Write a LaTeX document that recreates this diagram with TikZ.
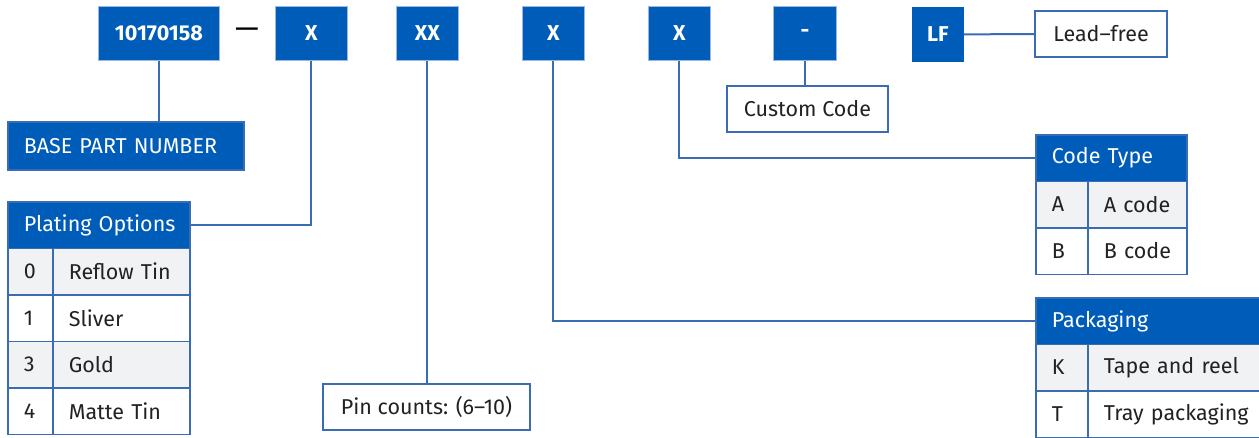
\documentclass[tikz,border=0pt]{standalone}
\usepackage{fontspec}
\setmainfont{Fira Sans}
\definecolor{fillblue}{HTML}{005CB9}
\definecolor{lineblue}{HTML}{3A6CB6}
\definecolor{edgeblue}{HTML}{9DB8E0}
\definecolor{rowgray}{HTML}{F1F2F4}
\definecolor{txt}{HTML}{222222}
\tikzset{
  tfont/.style={font=\fontsize{21.5}{24}\selectfont},
  topbox/.style={fill=fillblue, draw=edgeblue, line width=0.8pt, text=white, font=\fontsize{21.5}{24}\selectfont\bfseries, inner sep=0pt, anchor=north west, minimum height=54pt},
  bluebox/.style={fill=fillblue, draw=lineblue, line width=1.6pt, text=white, tfont, inner xsep=16pt, inner ysep=0pt, anchor=north west, minimum height=46.5pt},
  headcell/.style={fill=fillblue, draw=lineblue, line width=1.6pt, text=white, tfont, inner xsep=16pt, inner ysep=0pt, anchor=north west, minimum height=46.5pt, align=left, text width=#1},
  cellg/.style={fill=rowgray, draw=lineblue, line width=1.6pt, text=txt, tfont, inner xsep=16pt, inner ysep=0pt, anchor=north west, minimum height=46.5pt, align=left, text width=#1},
  cellw/.style={fill=white, draw=lineblue, line width=1.6pt, text=txt, tfont, inner xsep=16pt, inner ysep=0pt, anchor=north west, minimum height=46.5pt, align=left, text width=#1},
  wbox/.style={fill=white, draw=lineblue, line width=2pt, text=txt, tfont, inner sep=0pt, anchor=north west, minimum height=46pt},
  conn/.style={draw=lineblue, line width=2pt},
}
\begin{document}
\begin{tikzpicture}[x=1pt,y=-1pt]
\clip (0,0) rectangle (1259,437);
\fill[white] (0,0) rectangle (1259,437);
% top row
\node[topbox, minimum width=121pt] (pn) at (98,6) {10170158};
\node[text=black, font=\fontsize{30}{30}\selectfont, inner sep=0pt] (dash) at (247,33) {—};
\node[topbox, minimum width=72pt] (x1) at (275,6) {X};
\node[topbox, minimum width=62pt] (xx) at (396,6) {XX};
\node[topbox, minimum width=62pt] (x2) at (522,6) {X};
\node[topbox, minimum width=62pt] (x3) at (648,6) {X};
\node[topbox, minimum width=63pt] (cd) at (773,6) {-};
\node[topbox, minimum width=51pt, draw=fillblue] (lf) at (912,7) {LF};
\node[wbox, minimum width=132pt] (lead) at (1034,10) {Lead–free};
% base part number
\node[bluebox, minimum width=236pt, minimum height=48pt, text width=204pt, align=left] (bpn) at (7,121) {BASE PART NUMBER};
% plating options
\node[headcell=150pt] (poh) at (7,201) {\mbox{Plating Options}};
\node[cellg=13pt] (p0k) at (7,247.5) {0};
\node[cellg=105pt] (p0v) at (52,247.5) {\mbox{Reflow Tin}};
\node[cellw=13pt] (p1k) at (7,294) {1};
\node[cellw=105pt] (p1v) at (52,294) {\mbox{Sliver}};
\node[cellg=13pt] (p3k) at (7,340.5) {3};
\node[cellg=105pt] (p3v) at (52,340.5) {\mbox{Gold}};
\node[cellw=13pt] (p4k) at (7,387) {4};
\node[cellw=105pt] (p4v) at (52,387) {\mbox{Matte Tin}};
% pin counts
\node[wbox, minimum width=207pt] (pin) at (322,383) {Pin counts: (6–10)};
% custom code
\node[wbox, minimum width=161pt] (cc) at (726,85) {Custom Code};
% code type
\node[headcell=119pt] (cth) at (1035,134) {\mbox{Code Type}};
\node[cellg=20pt] (cak) at (1035,180.5) {A};
\node[cellg=67pt] (cav) at (1087,180.5) {\mbox{A code}};
\node[cellw=20pt] (cbk) at (1035,227) {B};
\node[cellw=67pt] (cbv) at (1087,227) {\mbox{B code}};
% packaging
\node[headcell=200pt] (pkh) at (1035,297) {\mbox{Packaging}};
\node[cellg=20pt] (pkk) at (1035,343.5) {K};
\node[cellg=160pt] (pkv) at (1087,343.5) {\mbox{Tape and reel}};
\node[cellw=20pt] (ptk) at (1035,390) {T};
\node[cellw=160pt] (ptv) at (1087,390) {\mbox{Tray packaging}};
% connectors
\draw[conn] (pn.south) -- (pn.south |- bpn.north);
\draw[conn] (x1.south) |- (poh.east);
\draw[conn] (xx.south) -- (xx.south |- pin.north);
\draw[conn] (x2.south) |- (pkh.west);
\draw[conn] (x3.south) |- (cth.west);
\draw[conn] (cd.south) -- (cd.south |- cc.north);
\draw[conn] (lf.east) -- (lead.west);
\end{tikzpicture}
\end{document}
